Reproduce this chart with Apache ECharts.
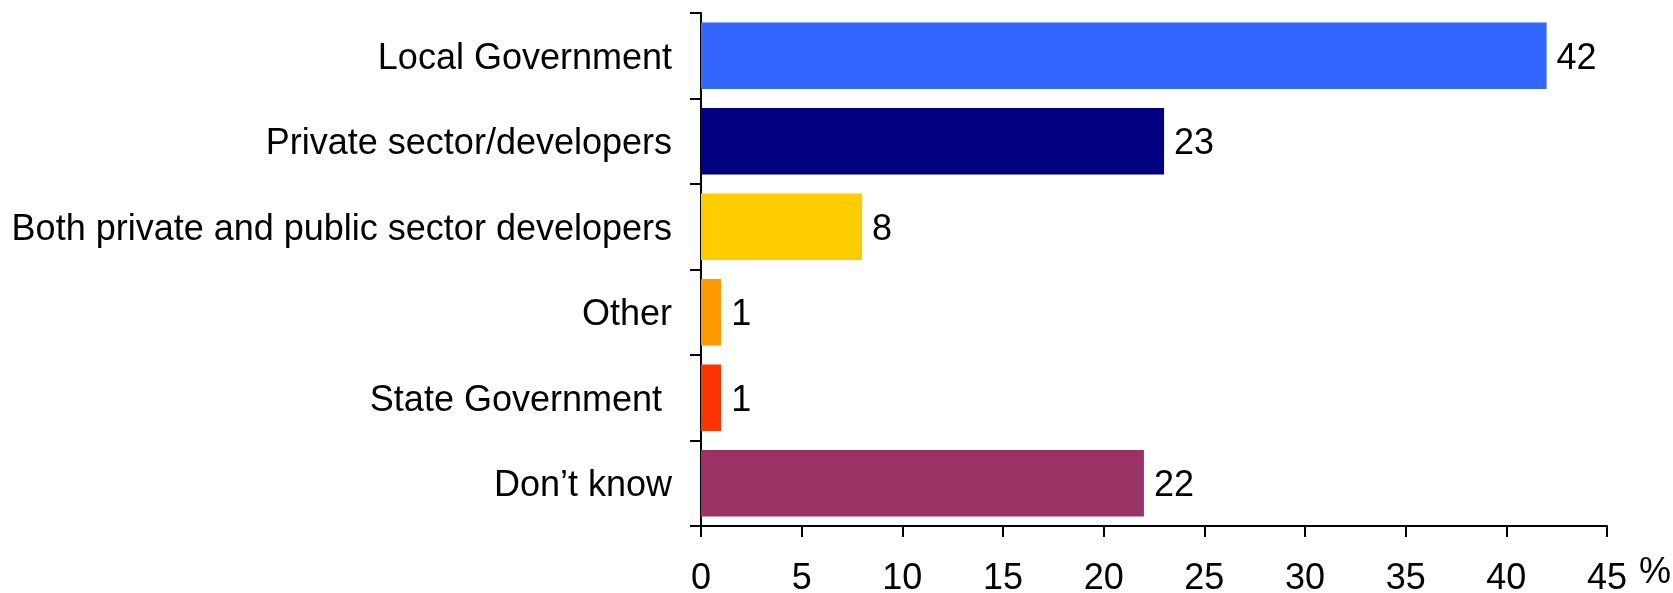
<!DOCTYPE html>
<html>
<head>
<meta charset="utf-8">
<script src="https://cdn.jsdelivr.net/npm/echarts@6/dist/echarts.min.js"></script>
<style>
html,body{margin:0;padding:0;background:#fff;}
#chart{width:1673px;height:593px;}
</style>
</head>
<body>
<div id="chart"></div>
<script>
const categories = ['Local Government', 'Private sector/developers', 'Both private and public sector developers', 'Other', 'State Government ', 'Don\u2019t know'];
const values = [42, 23, 8, 1, 1, 22];
const barColors = ['#3366FF', '#000080', '#FFCC00', '#FF9900', '#FF3300', '#993366'];
const xTicks = { min: 0, max: 45, interval: 5 };
const unitLabel = '%';

const chart = echarts.init(document.getElementById('chart'), null, { renderer: 'canvas' });
const font = 'Arial, "Liberation Sans", sans-serif';
chart.setOption({
  animation: false,
  backgroundColor: '#ffffff',
  grid: { left: 701, right: 66, top: 13, bottom: 67, containLabel: false, outerBoundsMode: 'none' },
  xAxis: {
    type: 'value',
    min: xTicks.min, max: xTicks.max, interval: xTicks.interval,
    axisLine: { show: true, lineStyle: { color: '#000', width: 2 } },
    axisTick: { show: true, length: 11, inside: false, lineStyle: { color: '#000', width: 2 } },
    splitLine: { show: false },
    axisLabel: { color: '#000', fontSize: 36, fontFamily: font, margin: 35 },
    name: unitLabel,
    nameLocation: 'end',
    nameGap: 32,
    nameTextStyle: { color: '#000', fontSize: 36, fontFamily: font, align: 'left', verticalAlign: 'top', padding: [29, 0, 0, 0] }
  },
  yAxis: {
    type: 'category',
    data: categories,
    inverse: true,
    axisLine: { show: true, lineStyle: { color: '#000', width: 2 } },
    axisTick: { show: true, length: 11, alignWithLabel: false, lineStyle: { color: '#000', width: 2 } },
    axisLabel: {
      color: '#000', fontSize: 36, fontFamily: font, margin: 29,
      formatter: function (v) { return '{c|' + v + '}'; },
      rich: { c: { color: '#000', fontSize: 36, fontFamily: font, padding: [6, 0, 0, 0] } }
    },
    splitLine: { show: false }
  },
  series: [{
    type: 'bar',
    data: values.map((v, i) => ({ value: v, itemStyle: { color: barColors[i] } })),
    barCategoryGap: '22%',
    label: { show: true, position: 'right', distance: 10, offset: [0, 3], color: '#000', fontSize: 36, fontFamily: font },
    silent: true
  }]
});
</script>
</body>
</html>
